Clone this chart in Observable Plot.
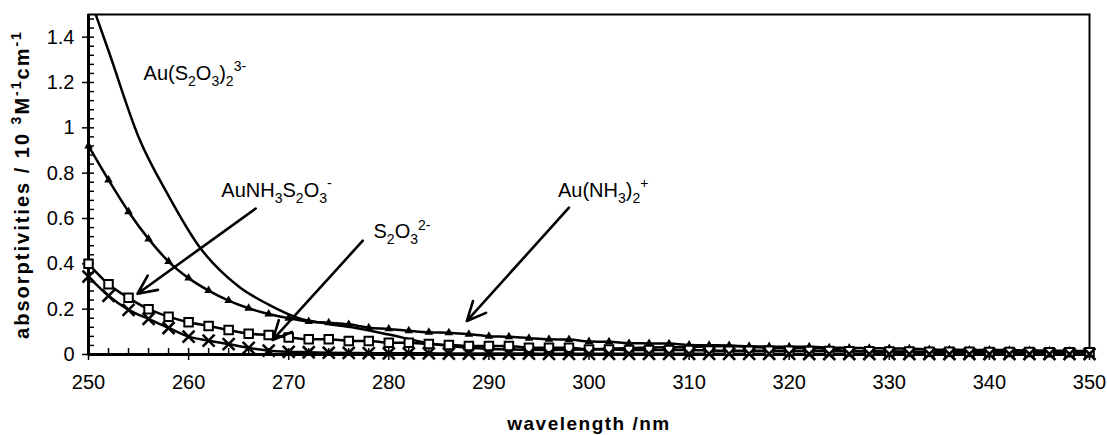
<!DOCTYPE html>
<html><head><meta charset="utf-8">
<script src="https://cdn.jsdelivr.net/npm/d3@7"></script>
<script src="https://cdn.jsdelivr.net/npm/@observablehq/plot@0.6"></script>
<style>
html,body{margin:0;padding:0;background:#fff;}
#chart{width:1107px;height:435px;}
</style></head><body><div id="chart"></div>
<script>
// ---- data ----
const wavelengths = [250,252,254,256,258,260,262,264,266,268,270,272,274,276,278,280,282,284,286,288,290,292,294,296,298,300,302,304,306,308,310,312,314,316,318,320,322,324,326,328,330,332,334,336,338,340,342,344,346,348,350];
// triangle-marker series
const triangleSeries = [0.92,0.77,0.63,0.51,0.41,0.337,0.282,0.238,0.204,0.179,0.16,0.146,0.14,0.133,0.118,0.113,0.105,0.098,0.096,0.089,0.081,0.078,0.072,0.067,0.066,0.057,0.056,0.05,0.049,0.048,0.042,0.041,0.04,0.036,0.035,0.034,0.034,0.03,0.029,0.028,0.027,0.026,0.022,0.021,0.02,0.02,0.019,0.018,0.017,0.016,0.015];
// open-square series
const squareSeries = [0.40,0.31,0.25,0.20,0.167,0.142,0.126,0.108,0.092,0.086,0.075,0.067,0.067,0.06,0.06,0.052,0.052,0.046,0.042,0.038,0.038,0.038,0.03,0.03,0.03,0.022,0.022,0.02,0.02,0.02,0.02,0.018,0.017,0.017,0.016,0.016,0.015,0.015,0.014,0.014,0.013,0.013,0.012,0.012,0.012,0.011,0.011,0.011,0.01,0.01,0.01];
// cross-marker series
const crossSeries = [0.344,0.259,0.197,0.157,0.117,0.079,0.061,0.046,0.029,0.017,0.012,0.01,0.008,0.007,0.006,0.005,0.005,0.005,0.004,0.004,0.004,0.004,0.004,0.003,0.003,0.003,0.003,0.003,0.003,0.003,0.003,0.003,0.003,0.003,0.003,0.003,0.002,0.002,0.002,0.002,0.002,0.002,0.002,0.002,0.002,0.002,0.002,0.002,0.002,0.002,0.002];
// plain line (no markers)
const plainWavelengths = [250,252,255,258,261,265,268,271,274,277,280,284,288,292,296,300,305,310,314,318,323,326,332,336,350];
const plainSeries = [1.59,1.34,0.96,0.70,0.48,0.30,0.22,0.16,0.135,0.115,0.088,0.05,0.03,0.022,0.02,0.022,0.03,0.033,0.038,0.03,0.028,0.015,0.012,0.008,0.005];

// annotations
const labelMarkup = ["Au(S_2O_3)_2^{3-}", "AuNH_3S_2O_3^{-}", "S_2O_3^{2-}", "Au(NH_3)_2^{+}"];
const labelX = [255.5, 263.27, 278.47, 296.9];
const labelY = [1.241, 0.725, 0.542, 0.725];
const arrowX1 = [266.7, 277.4, 298.0];
const arrowY1 = [0.644, 0.502, 0.648];
const arrowX2 = [254.9, 268.4, 287.8];
const arrowY2 = [0.268, 0.064, 0.148];

// axes
const xDomain = [250, 350];
const yDomain = [0, 1.5];
const xMajorTicks = [250,260,270,280,290,300,310,320,330,340,350];
const xMinorTicks = wavelengths;
const yMajorTicks = [0,0.2,0.4,0.6,0.8,1,1.2,1.4];
const yMinorTicks = [0,0.04,0.08,0.12,0.16,0.2,0.24,0.28,0.32,0.36,0.4,0.44,0.48,0.52,0.56,0.6,0.64,0.68,0.72,0.76,0.8,0.84,0.88,0.92,0.96,1,1.04,1.08,1.12,1.16,1.2,1.24,1.28,1.32,1.36,1.4,1.44,1.48];
const xTitle = "wavelength /nm";
const yTitleMarkup = "absorptivities / 10 ^3M^{-1}cm^{-1}";

// ---- helpers ----
function parseMarkup(s){
  const segs=[]; let i=0, buf="";
  const push=(t,k)=>{ if(t) segs.push({t,k}); };
  while(i<s.length){
    const c=s[i];
    if(c==="_"||c==="^"){
      push(buf,"n"); buf="";
      const k = c==="_" ? "sub" : "sup"; i++;
      let t;
      if(s[i]==="{"){ const j=s.indexOf("}",i); t=s.slice(i+1,j); i=j+1; }
      else { t=s[i]; i++; }
      push(t,k);
    } else { buf+=c; i++; }
  }
  push(buf,"n");
  return segs;
}
const plain = s => parseMarkup(s).map(d=>d.t).join("");
function richify(svg, markup, fs){
  const p = plain(markup);
  svg.querySelectorAll("text").forEach(el=>{
    if(el.textContent===p && !el.dataset.rich){
      el.dataset.rich="1";
      el.textContent="";
      let cur=0;
      for(const sg of parseMarkup(markup)){
        const off = sg.k==="sub" ? fs*0.32 : sg.k==="sup" ? -fs*0.42 : 0;
        const ts=document.createElementNS("http://www.w3.org/2000/svg","tspan");
        ts.setAttribute("dy", (off-cur).toFixed(2));
        cur=off;
        if(sg.k!=="n") ts.setAttribute("font-size", (fs*0.7).toFixed(1));
        ts.textContent=sg.t;
        el.appendChild(ts);
      }
    }
  });
}

const rows = s => wavelengths.map((w,i)=>({w, v:s[i]}));
const triRows = rows(triangleSeries);
const sqRows = rows(squareSeries);
const crRows = rows(crossSeries);
const plainRows = plainWavelengths.map((w,i)=>({w, v:plainSeries[i]}));
const labelRows = labelMarkup.map((m,i)=>({x:labelX[i], y:labelY[i], text:plain(m)}));
const arrowRows = arrowX1.map((d,i)=>({x1:arrowX1[i], y1:arrowY1[i], x2:arrowX2[i], y2:arrowY2[i]}));
const fmt = d => String(+d.toFixed(1));

const plot = Plot.plot({
  width: 1107, height: 435,
  marginLeft: 88, marginRight: 18, marginTop: 14, marginBottom: 81,
  x: {domain: xDomain},
  y: {domain: yDomain},
  style: {fontFamily: "'Liberation Sans', Arial, sans-serif", fontSize: "20px", background: "#fff", color: "#000", overflow: "visible"},
  marks: [
    Plot.axisX({ticks: xMinorTicks, tickSize: -6, tickFormat: () => "", label: null, strokeWidth: 1.5}),
    Plot.axisX({ticks: xMajorTicks, tickSize: 6, tickPadding: 14, tickFormat: d => String(d), label: null, fontSize: 20, strokeWidth: 1.5}),
    Plot.axisY({ticks: yMinorTicks, tickSize: -6, tickFormat: () => "", label: null, strokeWidth: 1.5}),
    Plot.axisY({ticks: yMajorTicks, tickSize: 6, tickPadding: 8, tickFormat: fmt, label: null, fontSize: 20, strokeWidth: 1.5}),
    Plot.frame({strokeWidth: 2}),
    Plot.ruleX([xDomain[0]], {strokeWidth: 3}),
    Plot.ruleY([yDomain[0]], {strokeWidth: 3}),
    Plot.line(plainRows, {x: "w", y: "v", curve: "monotone-x", strokeWidth: 2.5, clip: true}),
    Plot.line(triRows, {x: "w", y: "v", curve: "monotone-x", strokeWidth: 2.5}),
    Plot.line(sqRows, {x: "w", y: "v", curve: "monotone-x", strokeWidth: 2.5}),
    Plot.line(crRows, {x: "w", y: "v", curve: "monotone-x", strokeWidth: 2.5}),
    Plot.dot(triRows, {x: "w", y: "v", symbol: "triangle", fill: "black", r: 3.2}),
    Plot.dot(sqRows, {x: "w", y: "v", symbol: "square", fill: "white", stroke: "black", strokeWidth: 2, r: 4.8}),
    Plot.dot(crRows, {x: "w", y: "v", symbol: "times", stroke: "black", strokeWidth: 2.6, r: 5.5}),
    Plot.arrow(arrowRows, {x1: "x1", y1: "y1", x2: "x2", y2: "y2", strokeWidth: 2.6, headLength: 12, headAngle: 50}),
    Plot.text(labelRows, {x: "x", y: "y", text: "text", textAnchor: "start", fontSize: 20}),
    Plot.text([plain(yTitleMarkup)], {text: d => d, frameAnchor: "left", textAnchor: "middle", dx: -66, rotate: -90, fontWeight: "bold", fontSize: 20}),
    Plot.text([xTitle], {text: d => d, frameAnchor: "bottom", textAnchor: "middle", dy: 75, fontWeight: "bold", fontSize: 19})
  ]
});
document.getElementById("chart").appendChild(plot);
labelMarkup.forEach(m => richify(plot, m, 20));
richify(plot, yTitleMarkup, 20);
plot.querySelectorAll("text").forEach(el => {
  if (el.textContent === xTitle) el.style.letterSpacing = "1.5px";
  if (el.textContent === plain(yTitleMarkup)) el.style.letterSpacing = "2px";
});
</script>
</body></html>
